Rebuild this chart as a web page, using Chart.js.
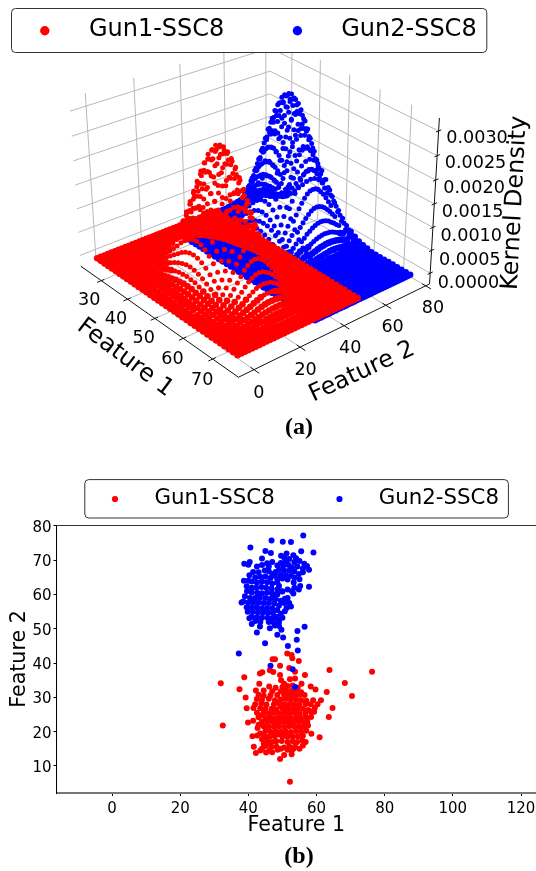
<!DOCTYPE html>
<html><head><meta charset="utf-8">
<style>html,body{margin:0;padding:0;background:#fff;width:536px;height:871px;overflow:hidden}canvas{position:absolute;left:0}</style>
<script src="https://cdn.jsdelivr.net/npm/chart.js@4"></script>
</head><body>
<canvas id="top" width="536" height="450" style="top:0"></canvas>
<canvas id="bot" width="540" height="421" style="top:450px"></canvas>
<script>
const seriesNames=['Gun1-SSC8','Gun2-SSC8'];
const feature1Ticks3d=[30,40,50,60,70];
const feature2Ticks3d=[0,20,40,60,80];
const densityTicks=[0,0.0005,0.001,0.0015,0.002,0.0025,0.003];
const densityLabels=['0.0000','0.0005','0.0010','0.0015','0.0020','0.0025','0.0030'];
const feature1Limits=[22,78.5], feature2Limits=[-6.5,82], densityLimits=[-0.00024,0.00326];
const densityUnit=1e-5;
const gun1GridF1=[25.5,26.93,28.36,29.79,31.22,32.65,34.08,35.51,36.94,38.37,39.8,41.23,42.66,44.09,45.52,46.95,48.38,49.81,51.24,52.67,54.1,55.53,56.96,58.39,59.82,61.25,62.68,64.11,65.54,66.97,68.4,69.83,71.26,72.69,74.12,75.55];
const gun1GridF2=[-3,-1.47,0.06,1.59,3.12,4.65,6.18,7.71,9.24,10.77,12.3,13.83,15.36,16.89,18.42,19.95,21.48,23.01,24.54,26.07,27.6,29.13,30.66,32.19,33.72,35.25,36.78,38.31,39.84,41.37,42.9,44.43,45.96,47.49,49.02,50.55];
const gun2GridF1=[26,27.43,28.86,30.29,31.72,33.15,34.58,36.01,37.44,38.87,40.3,41.73,43.16,44.59,46.02,47.45,48.88,50.31,51.74,53.17,54.6,56.03,57.46,58.89,60.32,61.75,63.18,64.61,66.04,67.47,68.9,70.33,71.76,73.19,74.62,76.05];
const gun2GridF2=[30,31.3,32.61,33.91,35.21,36.52,37.82,39.12,40.42,41.73,43.03,44.33,45.64,46.94,48.24,49.55,50.85,52.15,53.45,54.76,56.06,57.36,58.67,59.97,61.27,62.58,63.88,65.18,66.48,67.79,69.09,70.39,71.7,73,74.3,75.6];
// rows: [row index, first column, heights in densityUnit...]; every other node is 0
const gun1Heights=[
[3,12,5,5,5,5,5,5,5,5,5,5,5],
[4,11,3,4,5,6,7,7,8,8,8,7,7,6,5,4,3],
[5,9,3,4,6,7,9,10,12,13,14,14,14,13,12,10,9,7,6,4,3],
[6,8,3,5,7,9,11,14,16,19,20,22,22,22,20,19,16,14,11,9,7,5,3],
[7,6,4,5,8,10,14,17,21,25,29,32,33,34,33,32,29,25,21,17,14,10,8,5,4],
[8,5,4,5,8,11,16,21,26,32,38,43,47,50,51,50,47,43,38,32,26,21,16,11,8,5,4],
[9,4,3,5,8,11,16,22,29,38,46,54,62,68,72,73,72,68,62,54,46,38,29,22,16,11,8,5,3],
[10,3,3,4,7,11,16,22,30,40,51,62,74,84,92,97,99,97,92,84,74,62,51,40,30,22,16,11,7,4,3],
[11,3,4,6,9,14,20,29,40,53,67,82,97,110,121,128,130,128,121,110,97,82,67,53,40,29,20,14,9,6,4],
[12,2,3,4,7,11,17,26,36,50,66,84,103,121,138,151,160,163,160,151,138,121,103,84,66,50,36,26,17,11,7,4,3],
[13,2,3,5,9,14,21,31,44,60,80,101,124,147,167,183,193,197,193,183,167,147,124,101,80,60,44,31,21,14,9,5,3],
[14,2,4,6,10,16,24,36,51,70,92,117,144,170,193,212,224,228,224,212,193,170,144,117,92,70,51,36,24,16,10,6,4],
[15,2,4,7,11,18,27,40,56,77,102,130,159,188,214,235,248,253,248,235,214,188,159,130,102,77,56,40,27,18,11,7,4],
[16,2,4,7,12,19,29,42,60,82,109,138,169,200,228,250,264,269,264,250,228,200,169,138,109,82,60,42,29,19,12,7,4],
[17,2,4,7,12,19,29,43,61,84,111,141,173,205,233,255,270,275,270,255,233,205,173,141,111,84,61,43,29,19,12,7,4],
[18,2,4,7,12,19,29,42,60,82,109,138,169,200,228,250,264,269,264,250,228,200,169,138,109,82,60,42,29,19,12,7,4],
[19,2,4,7,11,18,27,40,56,77,102,130,159,188,214,235,248,253,248,235,214,188,159,130,102,77,56,40,27,18,11,7,4],
[20,2,4,6,10,16,24,36,51,70,92,117,144,170,193,212,224,228,224,212,193,170,144,117,92,70,51,36,24,16,10,6,4],
[21,2,3,5,9,14,21,31,44,60,80,101,124,147,167,183,193,197,193,183,167,147,124,101,80,60,44,31,21,14,9,5,3],
[22,2,3,4,7,11,17,26,36,50,66,84,103,121,138,151,160,163,160,151,138,121,103,84,66,50,36,26,17,11,7,4,3],
[23,3,4,6,9,14,20,29,40,53,67,82,97,110,121,128,130,128,121,110,97,82,67,53,40,29,20,14,9,6,4],
[24,3,3,4,7,11,16,22,30,40,51,62,74,84,92,97,99,97,92,84,74,62,51,40,30,22,16,11,7,4,3],
[25,4,3,5,8,11,16,22,29,38,46,54,62,68,72,73,72,68,62,54,46,38,29,22,16,11,8,5,3],
[26,5,4,5,8,11,16,21,26,32,38,43,47,50,51,50,47,43,38,32,26,21,16,11,8,5,4],
[27,6,4,5,8,10,14,17,21,25,29,32,33,34,33,32,29,25,21,17,14,10,8,5,4],
[28,8,3,5,7,9,11,14,16,19,20,22,22,22,20,19,16,14,11,9,7,5,3],
[29,9,3,4,6,7,9,10,12,13,14,14,14,13,12,10,9,7,6,4,3],
[30,11,3,4,5,6,7,7,8,8,8,7,7,6,5,4,3],
[31,12,3,3,4,4,5,5,5,4,4,3,3]
];
const gun2Heights=[
[6,8,3,3,4,5,5,5,4,3,3],
[7,7,3,4,5,6,6,7,6,6,5,4,3],
[8,6,3,5,6,7,9,10,11,10,9,7,6,5,3],
[9,5,3,5,7,9,11,13,14,16,14,13,11,9,7,5,3],
[10,4,3,5,7,9,12,15,18,20,21,22,21,20,18,15,12,9,7,5,3],
[11,4,3,4,6,9,13,17,21,25,28,30,31,30,28,25,21,17,13,9,6,4,3],
[12,3,4,6,9,13,17,23,28,34,38,41,42,41,38,34,28,23,17,13,9,6,4],
[13,3,3,5,8,12,17,23,30,38,45,51,55,56,55,51,45,38,30,23,17,12,8,5,3],
[14,2,4,6,10,15,22,30,39,49,58,66,71,73,71,66,58,49,39,30,22,15,10,6,4],
[15,1,3,5,8,13,19,28,39,51,63,75,85,92,94,92,85,75,63,51,39,28,19,13,8,5,3],
[16,1,3,6,10,16,24,35,48,63,79,94,106,114,117,114,106,94,79,63,48,35,24,16,10,6,3],
[17,1,4,7,12,19,29,42,58,77,96,114,129,139,142,139,129,114,96,77,58,42,29,19,12,7,4],
[18,1,8,14,23,35,50,69,91,113,135,152,164,168,164,152,135,113,91,69,50,35,23,14,8,5,3],
[19,1,10,17,26,40,58,80,105,131,156,177,190,195,190,177,156,131,105,80,58,40,26,17,10,6,3],
[20,1,11,19,30,46,66,91,119,149,177,200,216,221,216,200,177,149,119,91,66,46,30,19,11,6,3],
[21,1,12,21,33,50,73,101,132,165,196,222,239,245,239,222,196,165,132,101,73,50,33,21,12,7,4],
[22,1,13,23,36,55,79,109,143,179,213,241,260,266,260,241,213,179,143,109,79,55,36,23,13,8,4],
[23,1,14,24,38,58,84,116,152,190,226,255,275,282,275,255,226,190,152,116,84,58,38,24,14,8,4],
[24,1,15,25,39,60,87,120,157,197,234,265,285,292,285,265,234,197,157,120,87,60,39,25,15,8,4],
[25,1,15,25,40,61,88,121,159,199,236,267,288,295,288,267,236,199,159,121,88,61,40,25,15,9,4],
[26,1,15,25,39,60,87,120,157,197,234,265,285,292,285,265,234,197,157,120,87,60,39,25,15,8,4],
[27,1,14,24,38,58,84,116,152,190,226,255,275,282,275,255,226,190,152,116,84,58,38,24,14,8,4],
[28,1,13,23,36,55,79,109,143,179,213,241,260,266,260,241,213,179,143,109,79,55,36,23,13,8,4],
[29,1,12,21,33,50,73,101,132,165,196,222,239,245,239,222,196,165,132,101,73,50,33,21,12,7,4],
[30,1,11,19,30,46,66,91,119,149,177,200,216,221,216,200,177,149,119,91,66,46,30,19,11,6,3],
[31,1,10,17,26,40,58,80,105,131,156,177,190,195,190,177,156,131,105,80,58,40,26,17,10,6,3],
[32,1,8,14,23,35,50,69,91,113,135,152,164,168,164,152,135,113,91,69,50,35,23,14,8,5,3],
[33,1,4,7,12,19,29,42,58,77,96,114,129,139,142,139,129,114,96,77,58,42,29,19,12,7,4],
[34,1,3,6,10,16,24,35,48,63,79,94,106,114,117,114,106,94,79,63,48,35,24,16,10,6,3],
[35,1,3,5,8,13,19,28,39,51,63,75,85,92,94,92,85,75,63,51,39,28,19,13,8,5,3]
];
const gun1Scatter=[[52.2,5.4],[32.5,21.8],[31.9,34.1],[38.8,35.9],[37.4,32.4],[39.2,30],[39.5,26.8],[76.3,37.5],[68.3,34.2],[70.4,30.4],[63.8,38],[63,31.6],[61.3,29.2],[64.7,26.9],[63.6,24.3],[60.9,18.4],[58.5,19.4],[56.8,17],[56.6,36.5],[54.8,40.6],[51.4,42.8],[52.7,42.4],[52.9,41.4],[47.1,41.1],[47.8,41.1],[49.3,39.2],[43.4,37],[44.1,37.3],[46.3,37.9],[47.3,37.4],[52,38.6],[49.3,36.5],[49.6,35],[53.7,37.5],[53.7,35.5],[52.2,35.3],[43.2,34],[46.1,33.2],[55.6,34],[58.3,33.2],[59.7,32.3],[49.3,12],[50.5,13.2],[52.7,13.4],[42.2,13.8],[41.6,15.6],[45.2,13.9],[46.1,14.4],[41.2,18.7],[42.6,18.9],[39.9,22.7],[41.4,23.2],[42.7,21.1],[53.3,15.1],[48.6,14.7],
[50,33],[51.5,33.3],[53,33.5],[54.5,32.8],[44.5,32],[47,31.8],[49.5,31.8],[51,32],[52.5,31.9],[54,31.8],[55.5,31.5],[43,30.8],[46.5,30.6],[48.5,30.7],[50.5,30.8],[52,30.7],[53.5,30.6],[55,30.8],[56.5,30.7],[42.5,29.5],[44,29.3],[46,29.6],[49.5,29.4],[51,29.5],[52.5,29.3],[54,29.4],[55.5,29.2],[57,29],[59,29.2],[42,28],[43.8,28.2],[45.3,27.9],[47.5,28],[49,28.2],[50.5,28],[52,28],[53.5,27.9],[55,28],[56.8,28.1],[58.3,28],[41.5,26.9],[43.5,26.8],[45,26.7],[46.8,26.7],[48.2,26.5],[50,26.8],[51.5,26.7],[53,26.6],[54.5,26.6],[56,26.7],[42.5,25.5],[44.5,25.6],[46,25.4],[47.5,25.5],[49,25.4],[50.5,25.5],[52,25.3],[53.5,25.5],[55,25.3],[56.7,25.3],[58.5,25.7],[59.3,25.8],[43,24.2],[45,24],[46.5,24.1],[48,24],[49.5,24.1],[51,24.2],[52.5,24],[54,24.1],[55.5,24],[57,24.2],[58.4,24.3],[44,22.9],[45.5,22.8],[47,22.9],[48.5,22.7],[50,22.9],[51.5,22.8],[53,22.8],[54.5,22.9],[56,22.9],[57.3,23],[44.5,21.6],[46,21.4],[47.5,21.5],[49,21.5],[50.5,21.4],[52,21.6],[53.5,21.5],[55,21.4],[56.3,21.5],[57.5,21.8],[45,20.2],[46.5,20],[48,20.1],[49.5,20],[51,20.1],[52.5,19.9],[54,20.1],[55.5,20],[57,20.3],[45,18.7],[46.2,18.5],[47.7,18.7],[50,18.6],[51.5,18.5],[53,18.6],[54.5,18.6],[56,18.8],[45.5,17.2],[47,17],[48.2,17.2],[49.8,17.3],[51.5,17],[53,17.1],[54.3,17],[55.8,17.5],[45,15.8],[46.7,15.5],[48.3,15.6],[50.5,15.4],[52,15.6],[53.7,15.6],[44,15],[43.5,14.5],[47,14],[51.5,14.7],[52.8,14.6],
[43.5,19.5],[44,17.8],[43,22],[44.5,19],[43.8,24.8],[47.3,19.3],[48.8,19.2],[50.7,19.3],[52,18.9],[46,23.7],[48.8,23.2],[50.5,23.5],[52.2,23],[49.5,27.4],[51,27],[47.8,29.2],[53,31],[48,32.8],[50.5,34],[44.5,30.5],[42.2,32],[58,26],[59.5,27],[60.3,28],[57.5,26.3],[56,16],[55,15],[49.5,15],[46,16.5],[44.5,16.5]];
const gun2Scatter=[[56.1,77.2],[46.8,75.8],[50.1,75.4],[52.5,75.3],[40.6,73.7],[45,72.7],[46.6,72.1],[59.1,72.3],[55.5,72.6],
[49.6,71.3],[51.2,72],[53.2,71.5],[50.6,70.6],[52,70.4],[54,70.6],[55,69.8],[53.5,69.5],[51,69.6],[49.5,69.2],[48.5,68.5],[50.2,68.3],[51.8,68.6],[52.8,68],[54.4,68.2],[49,67.2],[50.5,67],[52,67],[53.5,66.8],[48,66.6],[47.8,65.5],[49.5,65.7],[51,65.6],[52.5,65.5],[50,64.7],[51.5,64.4],[56.4,69],[57.2,68.3],[57.8,67.2],[54.8,66],[55,64.5],[53.3,63.5],[53.5,62],[55.2,62.5],[57.8,62.3],[52.8,61],[53.2,60.3],[51.5,61.5],[50,60.9],[54.8,61.5],[52,57.5],[51.5,59],[52.5,56.5],
[38.8,69],[40.4,69.5],[40,68.7],[42.5,68.2],[44,68.6],[45.5,69.1],[41.4,66.6],[43,66.5],[44.8,67],[46,66.8],[47,66],[43.5,65.2],[45,65.3],[46.5,64.8],[38.7,64],[40,64],[41,63.8],[42.5,63.5],[44,63.8],[45.5,63.6],[47,63.2],[48.5,63.5],[39.5,62.4],[41,62],[42.3,62],[43.8,62.2],[45.2,62],[46.8,61.8],[48.5,61.5],[49.8,61],[39.6,61],[41,60.6],[42.6,60.5],[44,60.4],[45.5,60.5],[47,60.3],[48.5,60],[39,59.5],[40.5,59],[42,59],[43.4,59],[45,59],[46.5,58.8],[48,58.7],[49.5,58.2],[50.7,58.8],[38.5,58],[40,57.7],[41.5,57.6],[43,57.6],[44.5,57.5],[46,57.5],[47.6,57.4],[49,56.8],[50.5,57.5],[38,57.7],[39.5,56.3],[41,56.2],[42.5,56.2],[44,56],[45.5,56.1],[47,56],[48.5,55.5],[51.2,56.1],[39.8,55],[41.3,55],[42.8,54.8],[44.3,54.7],[45.8,54.7],[47.2,54.6],[49.5,54.4],[50.7,55.1],[41,53.5],[42.5,53.4],[44,53.2],[45.6,53.2],[47,53.1],[48.5,53],[50,53.2],[40.3,53.1],[42,52.3],[43.5,52],[46,52],[47.5,51.7],[49,52],[48.2,53.5],[41,51.4],[46.3,50.2],[43.4,50.7],[42.5,48.9],[49,50.8],[47.8,51],[49.7,49.7],[54.4,49.4],[56.5,50.6],[48.5,48.3],[50.2,47.5],[54.2,46.8],[44.9,45.8],[51.6,45],[54.5,43.7],[37.2,42.8],[46.5,39.2],[53,38.2],[53.7,33],
[44,70.5],[47,69.5],[46,68.2],[48.5,64.5],[40.3,65.6],[42,65],[43,60],[41.5,58],[44.5,55.5],[47.8,59.2],[49,62.5],[53.5,65],[56,66.5],[56,67.5]];
const scatterF1Ticks=[0,20,40,60,80,100,120];
const scatterF2Ticks=[10,20,30,40,50,60,70,80];

// ---- view of the 3D box (from the box corners in the picture)
const cornerB=[78,267],cornerA=[238,380],cornerC=[432,285],cornerD=[270,191],topC=[442,116],topB=[66,106];
function makeView(){
  const [x0,y0]=cornerB,[x1,y1]=cornerA,[x2,y2]=cornerC,[x3,y3]=cornerD;
  const dx1=x1-x2,dx2=x3-x2,sx=x0-x1+x2-x3,dy1=y1-y2,dy2=y3-y2,sy=y0-y1+y2-y3;
  const den=dx1*dy2-dx2*dy1,g=(sx*dy2-dx2*sy)/den,h=(dx1*sy-sx*dy1)/den;
  const a=x1-x0+g*x1,b=x3-x0+h*x3,d=y1-y0+g*y1,e=y3-y0+h*y3;
  const Wc=g+h+1;
  const r=-((topC[0]-x2)*Wc-(topB[0]-x0))/(topC[0]-topB[0]);
  const p=(topB[0]-x0)+topB[0]*r, q=topC[1]*(Wc+r)-y2*Wc;
  return {a,b,c:x0,d,e,f:y0,g,h,p,q,r};
}
const V=makeView();
function uvw(u,v,w){const W=V.g*u+V.h*v+1+V.r*w;return {x:(V.a*u+V.b*v+V.c+V.p*w)/W,y:(V.d*u+V.e*v+V.f+V.q*w)/W};}
const fu=f=>(f-feature1Limits[0])/(feature1Limits[1]-feature1Limits[0]);
const fv=f=>(f-feature2Limits[0])/(feature2Limits[1]-feature2Limits[0]);
const fw=z=>(z-densityLimits[0])/(densityLimits[1]-densityLimits[0]);
function surface(gridF1,gridF2,rows){
  const h=gridF2.map(()=>gridF1.map(()=>0));
  rows.forEach(r=>{for(let k=2;k<r.length;k++)h[r[0]][r[1]+k-2]=r[k];});
  const pts=[],radii=[];
  gridF2.forEach((f2,j)=>gridF1.forEach((f1,i)=>{
    pts.push(uvw(fu(f1),fv(f2),fw(h[j][i]*densityUnit)));
    radii.push(h[j][i]<28?3.3:2.5);
  }));
  return {pts,radii};
}
const blueSurface=surface(gun2GridF1,gun2GridF2,gun2Heights), redSurface=surface(gun1GridF1,gun1GridF2,gun1Heights);
const BR={x:NaN,y:NaN};
const gridPts=[],axisPts=[];
densityTicks.forEach(z=>{const w=fw(z);gridPts.push(uvw(0,0,w),uvw(0,1,w),uvw(1,1,w),BR);});
feature2Ticks3d.forEach(f=>{const v=fv(f);gridPts.push(uvw(0,v,1),uvw(0,v,0),uvw(1,v,0),BR);});
feature1Ticks3d.forEach(f=>{const u=fu(f);gridPts.push(uvw(u,1,1),uvw(u,1,0),uvw(u,0,0),BR);});
axisPts.push(uvw(0,0,0),uvw(1,0,0),uvw(1,1,0),uvw(1,1,1),BR);
feature1Ticks3d.forEach(f=>{const u=fu(f);axisPts.push(uvw(u,-0.02,0),uvw(u,0.015,0),BR);});
feature2Ticks3d.forEach(f=>{const v=fv(f);axisPts.push(uvw(1.03,v,0),uvw(0.98,v,0),BR);});
densityTicks.forEach(z=>{const w=fw(z);axisPts.push(uvw(1,0.985,w),uvw(1,1.015,w),BR);});

const DJ='"DejaVu Sans"';
function legend(ctx,box,rad,font,items){
  ctx.save();
  ctx.beginPath();ctx.roundRect(box[0],box[1],box[2]-box[0],box[3]-box[1],4);
  ctx.fillStyle='#fff';ctx.fill();ctx.strokeStyle='#333';ctx.lineWidth=1;ctx.stroke();
  ctx.font=font;ctx.fillStyle='#000';ctx.textAlign='left';ctx.textBaseline='middle';
  items.forEach(it=>{ctx.beginPath();ctx.arc(it.mx,it.my,rad,0,7);ctx.fillStyle=it.color;ctx.fill();ctx.fillStyle='#000';ctx.fillText(it.text,it.tx,it.my-1);});
  ctx.restore();
}
function label(ctx,t,x,y,font,rot,al){
  ctx.save();ctx.translate(x,y);ctx.rotate((rot||0)*Math.PI/180);ctx.font=font;ctx.fillStyle='#000';ctx.textAlign=al||'center';ctx.textBaseline='middle';ctx.fillText(t,0,0);ctx.restore();
}
new Chart(document.getElementById('top'),{
  type:'scatter',
  data:{datasets:[
    {label:'grid',data:gridPts,showLine:true,pointRadius:0,borderColor:'#b8b8b8',borderWidth:1,order:4},
    {label:'axes',data:axisPts,showLine:true,pointRadius:0,borderColor:'#111',borderWidth:1,order:3},
    {label:seriesNames[1],data:blueSurface.pts,backgroundColor:'#0000ff',pointRadius:blueSurface.radii,pointBorderWidth:0,borderWidth:0,order:2},
    {label:seriesNames[0],data:redSurface.pts,backgroundColor:'#ff0000',pointRadius:redSurface.radii,pointBorderWidth:0,borderWidth:0,order:1}
  ]},
  options:{responsive:false,animation:false,events:[],layout:{padding:0},
    plugins:{legend:{display:false},tooltip:{enabled:false}},
    scales:{x:{display:false,min:0,max:536},y:{display:false,min:0,max:450,reverse:true}}},
  plugins:[{id:'deco',afterDraw(c){
    const ctx=c.ctx,T='17.6px '+DJ;
    feature1Ticks3d.forEach(f=>{const p=uvw(fu(f),0,0);label(ctx,String(f),p.x-9.5,p.y+18.6,T);});
    feature2Ticks3d.forEach(f=>{const p=uvw(1,fv(f),0);label(ctx,String(f),p.x+5,p.y+21,T);});
    densityTicks.forEach((z,i)=>{const p=uvw(1,1,fw(z));label(ctx,densityLabels[i],p.x+5,p.y+9,T,0,'left');});
    label(ctx,'Feature 1',125,358,'24px '+DJ,37);
    label(ctx,'Feature 2',362,372,'24px '+DJ,-25);
    label(ctx,'Kernel Density',515,203,'24px '+DJ,-87);
    label(ctx,'(a)',299,428,'bold 24px "Liberation Serif"');
    legend(ctx,[11.5,8.5,486.8,52.5],4.7,'24px '+DJ,[
      {mx:44.8,my:30.8,tx:88.9,color:'#ff0000',text:seriesNames[0]},
      {mx:297.4,my:30.8,tx:341.2,color:'#0000ff',text:seriesNames[1]}]);
  }}]
});
const toPts=a=>a.map(p=>({x:p[0],y:p[1]}));
new Chart(document.getElementById('bot'),{
  type:'scatter',
  data:{datasets:[
    {label:seriesNames[0],data:toPts(gun1Scatter),backgroundColor:'#ff0000',pointRadius:3,pointBorderWidth:0,order:2},
    {label:seriesNames[1],data:toPts(gun2Scatter),backgroundColor:'#0000ff',pointRadius:3,pointBorderWidth:0,order:1}
  ]},
  options:{responsive:false,animation:false,events:[],layout:{padding:{top:75,left:0,right:0,bottom:0}},
    plugins:{legend:{display:false},tooltip:{enabled:false}},
    scales:{
      x:{min:-16.3,max:124.4,afterBuildTicks(s){s.ticks=scatterF1Ticks.map(v=>({value:v}));},
        afterFit(s){s.height=78;s.paddingLeft=0;s.paddingRight=0;},
        grid:{display:true,drawOnChartArea:false,tickLength:3,color:'#000'},
        border:{display:true,color:'#777',width:2},
        ticks:{font:{family:'DejaVu Sans',size:15},color:'#000',padding:4,maxRotation:0,autoSkip:false,includeBounds:false},
        title:{display:true,text:'Feature 1',font:{family:'DejaVu Sans',size:20.6},color:'#000',padding:{top:0,bottom:33}}},
      y:{min:2.11,max:80.29,afterBuildTicks(s){s.ticks=scatterF2Ticks.map(v=>({value:v}));},
        afterFit(s){s.width=56.5;s.paddingTop=0;s.paddingBottom=0;},
        grid:{display:true,drawOnChartArea:false,tickLength:3,color:'#000'},
        border:{display:true,color:'#000',width:1},
        ticks:{font:{family:'DejaVu Sans',size:15},color:'#000',padding:2,autoSkip:false,includeBounds:false,labelOffset:2},
        title:{display:true,text:'Feature 2',font:{family:'DejaVu Sans',size:20.6},color:'#000',padding:{top:7,bottom:0}}}
    }},
  plugins:[{id:'deco2',afterDraw(c){
    const ctx=c.ctx,a=c.chartArea;
    ctx.save();ctx.strokeStyle='#333';ctx.lineWidth=1;ctx.beginPath();ctx.moveTo(a.left,a.top+.5);ctx.lineTo(a.right,a.top+.5);ctx.stroke();ctx.restore();
    label(ctx,'(b)',299,407,'bold 24px "Liberation Serif"');
    legend(ctx,[84.8,29.6,508.4,68],3.1,'21.3px '+DJ,[
      {mx:115,my:49,tx:154.5,color:'#ff0000',text:seriesNames[0]},
      {mx:339.5,my:49,tx:378.8,color:'#0000ff',text:seriesNames[1]}]);
  }}]
});
</script>
</body></html>
